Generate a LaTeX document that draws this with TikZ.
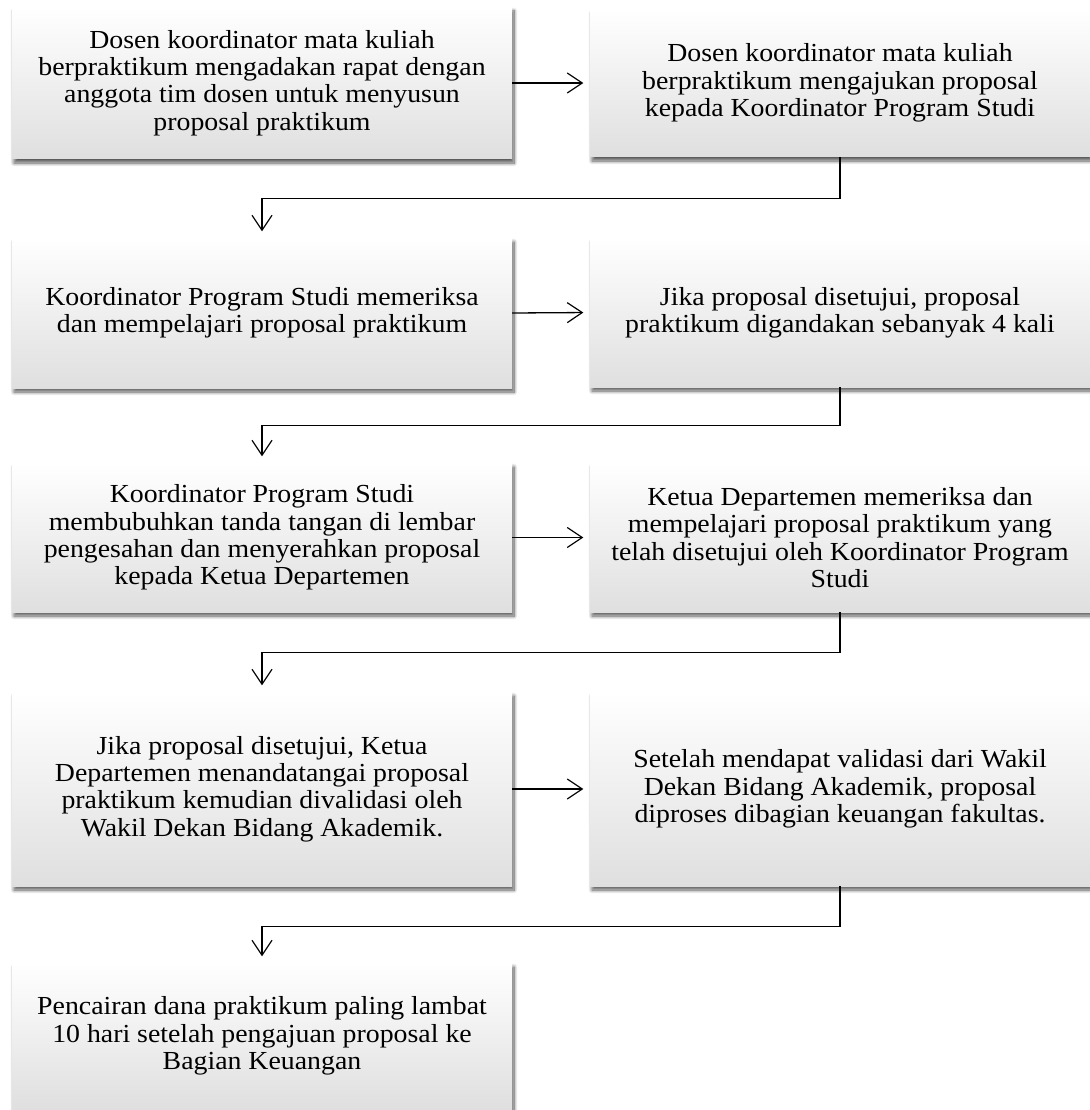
\documentclass[tikz,border=0pt]{standalone}
\usepackage{fontspec}
\setmainfont{Liberation Serif}[FakeStretch=1.07]
\usetikzlibrary{arrows.meta,shadows.blur}
\begin{document}
\begin{tikzpicture}[x=1pt,y=-1pt,
  flowbox/.style={minimum width=500pt, inner sep=0pt, align=center,
    top color=white, bottom color=gray!25, draw=none,
    blur shadow={shadow xshift=2pt, shadow yshift=-4pt, shadow blur radius=3.5pt, shadow blur steps=10, shadow opacity=65},
    font=\fontsize{26}{27.3}\selectfont},
  arr/.style={line width=1.3pt, -{Straight Barb[length=15pt,width=20pt,line width=1.2pt]}, shorten >=6.5pt}]
\useasboundingbox (0,0) rectangle (1089,1110);
\node[flowbox, minimum height=152pt] (b1) at (262,83) {Dosen koordinator mata kuliah\\berpraktikum mengadakan rapat dengan\\anggota tim dosen untuk menyusun\\proposal praktikum};
\node[flowbox, minimum height=148pt] (b2) at (840,83) {Dosen koordinator mata kuliah\\berpraktikum mengajukan proposal\\kepada Koordinator Program Studi};
\node[flowbox, minimum height=150pt] (b3) at (262,313) {Koordinator Program Studi memeriksa\\dan mempelajari proposal praktikum};
\node[flowbox, minimum height=149pt] (b4) at (840,312.5) {Jika proposal disetujui, proposal\\praktikum digandakan sebanyak 4 kali};
\node[flowbox, minimum height=149pt] (b5) at (262,537.5) {Koordinator Program Studi\\membubuhkan tanda tangan di lembar\\pengesahan dan menyerahkan proposal\\kepada Ketua Departemen};
\node[flowbox, minimum height=149pt] (b6) at (840,537.5) {Ketua Departemen memeriksa dan\\mempelajari proposal praktikum yang\\telah disetujui oleh Koordinator Program\\Studi};
\node[flowbox, minimum height=194pt] (b7) at (262,789) {Jika proposal disetujui, Ketua\\Departemen menandatangai proposal\\praktikum kemudian divalidasi oleh\\Wakil Dekan Bidang Akademik.};
\node[flowbox, minimum height=194pt] (b8) at (840,789) {Setelah mendapat validasi dari Wakil\\Dekan Bidang Akademik, proposal\\diproses dibagian keuangan fakultas.};
\node[flowbox, minimum height=146pt] (b9) at (262,1036) {Pencairan dana praktikum paling lambat\\10 hari setelah pengajuan proposal ke\\Bagian Keuangan};
\draw[arr] (b1.east) -- (b2.west);
\draw[arr] (b3.east) -- (b4.west);
\draw[arr] (b5.east) -- (b6.west);
\draw[arr] (b7.east) -- (b8.west);
\draw[arr] (b2.south) -- ++(0,41) -| (b3.north);
\draw[arr] (b4.south) -- ++(0,38) -| (b5.north);
\draw[arr] (b6.south) -- ++(0,40) -| (b7.north);
\draw[arr] (b8.south) -- ++(0,40) -| (b9.north);
\end{tikzpicture}
\end{document}
